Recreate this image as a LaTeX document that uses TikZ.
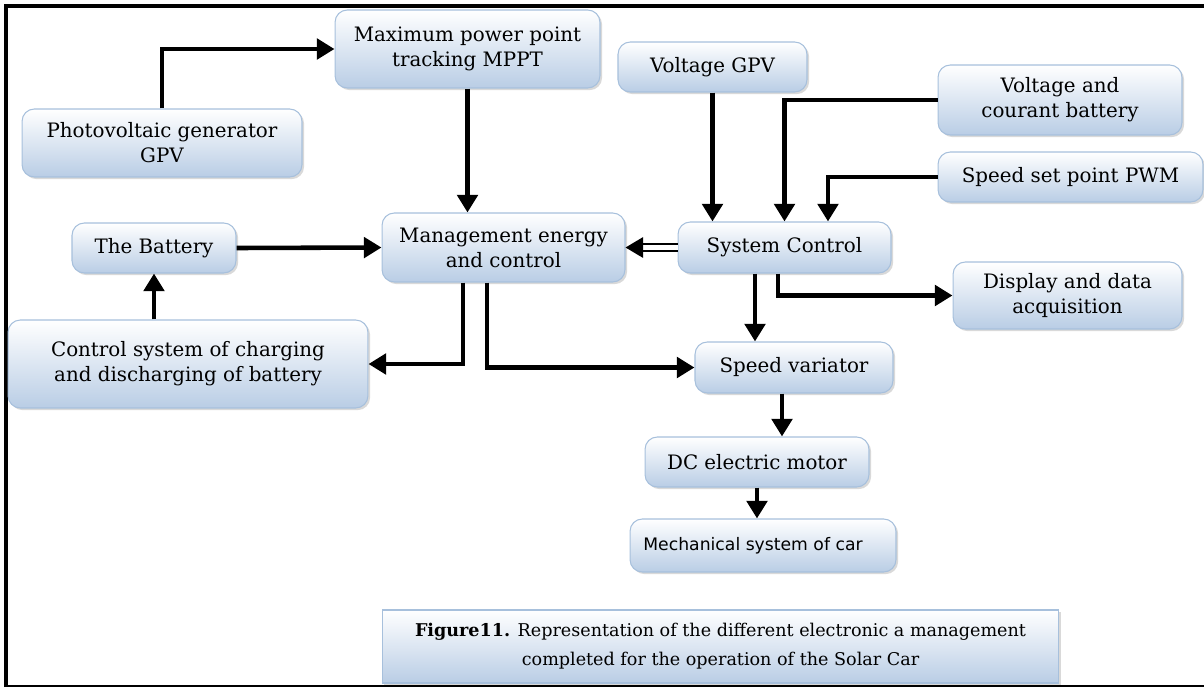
\documentclass[tikz,border=0pt]{standalone}
\usepackage{fontspec}
\setmainfont{DejaVu Serif}
\setsansfont{DejaVu Sans}
\usetikzlibrary{arrows.meta,shadows}
\definecolor{boxblue}{RGB}{185,205,229}
\definecolor{boxline}{RGB}{167,192,220}

\begin{document}
\begin{tikzpicture}[x=0.02cm, y=-0.02cm,
  >={Triangle[length=10pt,width=11.5pt]},
  block/.style={draw=boxline, semithick, rounded corners=7pt, top color=white, bottom color=boxblue,
    align=center, inner sep=2pt, font=\fontsize{11.3}{14.2}\selectfont,
    drop shadow={opacity=0.3, shadow xshift=1.2pt, shadow yshift=-1.2pt}},
  link/.style={line width=2.6pt, ->}]
\useasboundingbox (0,0) rectangle (1204,687);
% frame
\draw[line width=0.08cm] (6,687) -- (6,6) -- (1204,6);
\draw[line width=0.6pt] (6,686) -- (1204,686);
% blocks
\node[block, minimum width=5.6cm, minimum height=1.36cm] (pv) at (162,143) {Photovoltaic generator\\GPV};
\node[block, minimum width=5.3cm, minimum height=1.56cm] (mppt) at (467.5,49) {Maximum power point\\tracking MPPT};
\node[block, minimum width=3.78cm, minimum height=1.0cm] (vgpv) at (712.5,67) {Voltage GPV};
\node[block, minimum width=4.88cm, minimum height=1.4cm] (vbat) at (1060,100) {Voltage and\\courant battery};
\node[block, minimum width=5.3cm, minimum height=1.0cm] (pwm) at (1070.5,177) {Speed set point PWM};
\node[block, minimum width=4.26cm, minimum height=1.02cm] (sys) at (784.5,247.5) {System Control};
\node[block, minimum width=4.58cm, minimum height=1.34cm] (disp) at (1067.5,295.5) {Display and data\\acquisition};
\node[block, minimum width=4.86cm, minimum height=1.38cm] (mgmt) at (503.5,247.5) {Management energy\\and control};
\node[block, minimum width=3.28cm, minimum height=1.0cm] (bat) at (154,248) {The Battery};
\node[block, minimum width=7.2cm, minimum height=1.76cm] (csys) at (188,364) {Control system of charging\\and discharging of battery};
\node[block, minimum width=3.96cm, minimum height=1.02cm] (var) at (794,367.5) {Speed variator};
\node[block, minimum width=4.48cm, minimum height=1.0cm] (dc) at (757,462) {DC electric motor};
\node[block, minimum width=5.32cm, minimum height=1.06cm, font=\sffamily\fontsize{9.8}{11}\selectfont] (mech) at (763,545.5) {Mechanical system of car\hspace{0.4cm}};
\node[block, rounded corners=0pt, minimum width=13.54cm, minimum height=1.46cm, font=\fontsize{10}{16.4}\selectfont] (cap) at (720.5,646.5)
  {\textbf{Figure11.} Representation of the different electronic a management\\completed for the operation of the Solar Car};
% links
\draw[link] (pv.north) |- (mppt.west);
\draw[link] (mppt.south) -- (mppt.south |- mgmt.north);
\draw[link] (vgpv.south) -- (vgpv.south |- sys.north);
\draw[link] (vbat.west) -| (sys.north);
\draw[link] (pwm.west) -| ([xshift=0.87cm]sys.north);
\draw[double, double distance=2.4pt, line width=1.4pt, ->] (sys.west) -- (mgmt.east);
\draw[link] ([xshift=-0.59cm]sys.south) -- ([xshift=-0.59cm]sys.south |- var.north);
\draw[link] ([xshift=-0.13cm]sys.south) |- (disp.west);
\draw[link] (bat.east) -- (mgmt.west);
\draw[link] (bat.south |- csys.north) -- (bat.south);
\draw[link] ([xshift=-0.81cm]mgmt.south) |- (csys.east);
\draw[link] ([xshift=-0.33cm]mgmt.south) |- (var.west);
\draw[link] ([xshift=-0.24cm]var.south) -- ([xshift=-0.24cm]var.south |- dc.north);
\draw[link] (dc.south) -- (dc.south |- mech.north);
\end{tikzpicture}
\end{document}
